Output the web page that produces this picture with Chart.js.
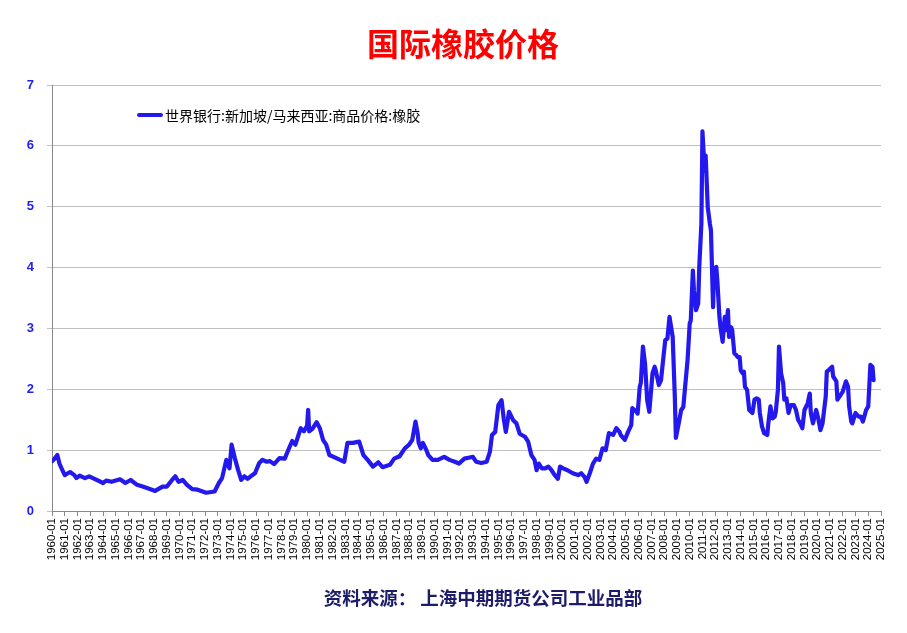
<!DOCTYPE html>
<html>
<head>
<meta charset="utf-8">
<script src="https://cdn.jsdelivr.net/npm/chart.js@4.4.1/dist/chart.umd.min.js"></script>
<style>
  html, body { margin: 0; padding: 0; background: #ffffff; }
  #wrap { position: relative; width: 907px; height: 633px; overflow: hidden; }
  #c { position: absolute; left: 0; top: 0; }
  #title { position: absolute; left: 0; width: 926px; top: 19px; text-align: center;
           font-family: "Noto Sans CJK SC", sans-serif; font-weight: 700; font-size: 32px;
           color: #ff0000; line-height: 46px; }
  #legend { position: absolute; left: 137px; top: 105px; height: 20px; display: flex; align-items: center;
            font-family: "Noto Sans CJK SC", sans-serif; font-size: 14px; color: #000; }
  #legend .swatch { width: 26px; height: 4px; background: #2318ee; border-radius: 2px; margin-right: 2px; }
  #footer { position: absolute; left: 0; width: 966px; top: 584px; text-align: center;
            font-family: "Noto Sans CJK SC", sans-serif; font-weight: 700; font-size: 18.5px;
            color: #1c1c6a; line-height: 26px; }
</style>
</head>
<body>
<div id="wrap">
  <canvas id="c" width="907" height="633"></canvas>
  <div id="title">国际橡胶价格</div>
  <div id="legend"><span class="swatch"></span><span id="legendText"></span></div>
  <div id="footer">资料来源：&nbsp;上海中期期货公司工业品部</div>
</div>
<script>
const seriesName = '世界银行:新加坡/马来西亚:商品价格:橡胶';

const dates = [
 '1960-01','1960-03','1960-06','1960-08','1960-10','1961-01','1961-04','1961-06','1961-10','1961-12',
 '1962-03','1962-08','1962-12','1963-07','1964-01','1964-04','1964-09','1965-01','1965-05','1965-10',
 '1966-03','1966-09','1967-03','1967-11','1968-02','1968-09','1969-01','1969-06','1969-09','1969-12',
 '1970-04','1970-08','1971-01','1971-06','1972-02','1972-10','1973-02','1973-05','1973-09','1973-12',
 '1974-02','1974-05','1974-08','1974-11','1975-02','1975-05','1975-08','1975-12','1976-04','1976-07',
 '1976-11','1977-02','1977-06','1977-11','1978-04','1978-08','1978-11','1979-02','1979-07','1979-10',
 '1980-01','1980-02','1980-03','1980-06','1980-10','1981-01','1981-04','1981-07','1981-10','1982-03',
 '1982-08','1982-12','1983-03','1983-08','1984-02','1984-06','1984-10','1985-03','1985-08','1985-12',
 '1986-07','1986-11','1987-04','1987-09','1988-01','1988-04','1988-07','1988-09','1988-10','1988-12',
 '1989-02','1989-05','1989-07','1989-11','1990-04','1990-10','1991-03','1991-08','1991-12','1992-05',
 '1992-10','1993-01','1993-04','1993-09','1994-02','1994-05','1994-07','1994-10','1995-01','1995-04',
 '1995-06','1995-08','1995-11','1996-03','1996-06','1996-09','1997-02','1997-05','1997-08','1997-11',
 '1998-01','1998-03','1998-06','1998-09','1998-12','1999-03','1999-06','1999-09','1999-11','2000-02',
 '2000-06','2000-11','2001-04','2001-07','2001-10','2001-12','2002-03','2002-06','2002-09','2002-12',
 '2003-03','2003-06','2003-09','2004-01','2004-04','2004-07','2004-08','2004-12','2005-03','2005-06',
 '2005-07','2005-11','2005-12','2006-02','2006-03','2006-05','2006-07','2006-09','2006-11','2007-02',
 '2007-04','2007-05','2007-08','2007-10','2007-12','2008-02','2008-04','2008-06','2008-07','2008-09',
 '2008-11','2008-12','2009-03','2009-05','2009-07','2009-09','2009-11','2010-01','2010-02','2010-04',
 '2010-05','2010-07','2010-09','2010-10','2010-12','2011-01','2011-03','2011-04','2011-06','2011-08',
 '2011-09','2011-11','2011-12','2012-02','2012-03','2012-05','2012-06','2012-08','2012-10','2012-11',
 '2013-01','2013-02','2013-04','2013-05','2013-07','2013-09','2013-10','2013-12','2014-01','2014-03',
 '2014-04','2014-05','2014-07','2014-09','2014-12','2015-02','2015-04','2015-06','2015-07','2015-09',
 '2015-11','2016-02','2016-03','2016-05','2016-07','2016-09','2016-10','2016-12','2017-01','2017-03',
 '2017-05','2017-06','2017-08','2017-10','2017-12','2018-03','2018-05','2018-07','2018-09','2018-11',
 '2019-01','2019-04','2019-06','2019-07','2019-09','2019-12','2020-02','2020-04','2020-06','2020-09',
 '2020-10','2020-12','2021-03','2021-04','2021-07','2021-08','2021-10','2022-01','2022-04','2022-06',
 '2022-07','2022-09','2022-10','2023-01','2023-04','2023-06','2023-08','2023-11','2024-01','2024-03',
 '2024-05','2024-06'
];

const prices = [
 0.82,0.85,0.92,0.78,0.70,0.59,0.62,0.64,0.59,0.54,
 0.58,0.54,0.57,0.51,0.46,0.50,0.48,0.50,0.52,0.46,
 0.51,0.43,0.40,0.35,0.33,0.40,0.40,0.51,0.57,0.48,
 0.51,0.43,0.36,0.35,0.30,0.32,0.46,0.54,0.84,0.70,
 1.09,0.87,0.68,0.51,0.57,0.53,0.57,0.62,0.79,0.84,
 0.81,0.82,0.77,0.87,0.86,1.03,1.15,1.09,1.36,1.31,
 1.40,1.66,1.31,1.35,1.46,1.36,1.17,1.09,0.92,0.88,
 0.84,0.81,1.12,1.12,1.14,0.92,0.84,0.73,0.80,0.72,
 0.76,0.86,0.90,1.03,1.09,1.17,1.47,1.28,1.12,1.03,
 1.12,1.01,0.92,0.84,0.84,0.89,0.84,0.81,0.78,0.86,
 0.88,0.89,0.81,0.79,0.81,0.97,1.25,1.30,1.74,1.82,
 1.52,1.30,1.63,1.49,1.44,1.27,1.22,1.14,0.92,0.84,
 0.67,0.78,0.70,0.70,0.73,0.67,0.59,0.53,0.73,0.70,
 0.67,0.62,0.59,0.62,0.56,0.48,0.62,0.78,0.86,0.84,
 1.03,1.00,1.28,1.25,1.36,1.30,1.25,1.17,1.30,1.41,
 1.69,1.63,1.60,2.04,2.10,2.70,2.42,1.82,1.63,2.26,
 2.37,2.31,2.07,2.15,2.48,2.81,2.83,3.19,3.08,2.86,
 1.88,1.20,1.47,1.66,1.71,2.10,2.48,3.08,3.13,3.95,
 3.62,3.30,3.41,4.01,4.72,6.24,5.59,5.84,4.99,4.72,
 4.61,3.35,3.98,4.01,3.79,3.19,3.02,2.78,3.19,2.97,
 3.30,2.86,3.02,2.97,2.59,2.56,2.53,2.53,2.31,2.26,
 2.29,2.04,1.99,1.66,1.61,1.83,1.85,1.83,1.61,1.39,
 1.28,1.25,1.44,1.72,1.52,1.55,1.63,1.99,2.70,2.26,
 2.10,1.83,1.85,1.61,1.74,1.74,1.66,1.50,1.44,1.36,
 1.66,1.77,1.93,1.61,1.44,1.66,1.52,1.33,1.44,1.88,
 2.29,2.32,2.37,2.21,2.13,1.83,1.88,1.96,2.13,2.04,
 1.72,1.47,1.44,1.61,1.55,1.55,1.47,1.66,1.72,2.40,
 2.37,2.15
];

const tickLabels = [
 '1960-01','1961-01','1962-01','1963-01','1964-01','1965-01','1966-01','1967-01','1968-01','1969-01',
 '1970-01','1971-01','1972-01','1973-01','1974-01','1975-01','1976-01','1977-01','1978-01','1979-01',
 '1980-01','1981-01','1982-01','1983-01','1984-01','1985-01','1986-01','1987-01','1988-01','1989-01',
 '1990-01','1991-01','1992-01','1993-01','1994-01','1995-01','1996-01','1997-01','1998-01','1999-01',
 '2000-01','2001-01','2002-01','2003-01','2004-01','2005-01','2006-01','2007-01','2008-01','2009-01',
 '2010-01','2011-01','2012-01','2013-01','2014-01','2015-01','2016-01','2017-01','2018-01','2019-01',
 '2020-01','2021-01','2022-01','2023-01','2024-01','2025-01'
];

const yTicks = [0, 1, 2, 3, 4, 5, 6, 7];

document.getElementById('legendText').textContent = seriesName;

function monthIndex(s) {
  const [y, m] = s.split('-').map(Number);
  return (y - 1960) * 12 + (m - 1);
}

const points = dates.map((d, i) => ({ x: monthIndex(d), y: prices[i] }));
const lastTick = monthIndex(tickLabels[tickLabels.length - 1]);

new Chart(document.getElementById('c'), {
  type: 'line',
  data: {
    datasets: [{
      label: seriesName,
      data: points,
      borderColor: '#2318ee',
      backgroundColor: '#2318ee',
      borderWidth: 4.2,
      pointRadius: 0,
      tension: 0,
      borderJoinStyle: 'round',
      borderCapStyle: 'round'
    }]
  },
  options: {
    responsive: false,
    animation: false,
    layout: { padding: { left: 0, top: 85, right: 26, bottom: 0 } },
    plugins: { legend: { display: false }, tooltip: { enabled: false }, title: { display: false } },
    scales: {
      x: {
        type: 'linear',
        min: 0,
        max: lastTick,
        afterFit: (s) => { s.height = 122; },
        grid: { drawOnChartArea: false, drawTicks: true, tickLength: 5, color: '#888888' },
        border: { display: true, color: '#888888', width: 1 },
        ticks: {
          stepSize: 12,
          autoSkip: false,
          maxRotation: 90,
          minRotation: 90,
          padding: 2,
          color: '#000000',
          font: { family: '"Liberation Sans", Arial, sans-serif', size: 11.5 },
          callback: (v) => tickLabels[Math.round(v / 12)] || ''
        }
      },
      y: {
        min: yTicks[0],
        max: yTicks[yTicks.length - 1],
        afterFit: (s) => { s.width = 52; },
        grid: { color: '#c0c0c0', lineWidth: 1, drawTicks: true, tickLength: 5 },
        border: { display: true, color: '#888888', width: 1 },
        ticks: {
          stepSize: 1,
          padding: 13,
          color: '#2222ee',
          font: { family: '"Liberation Sans", Arial, sans-serif', size: 13, weight: 'bold' }
        }
      }
    }
  }
});
</script>
</body>
</html>
